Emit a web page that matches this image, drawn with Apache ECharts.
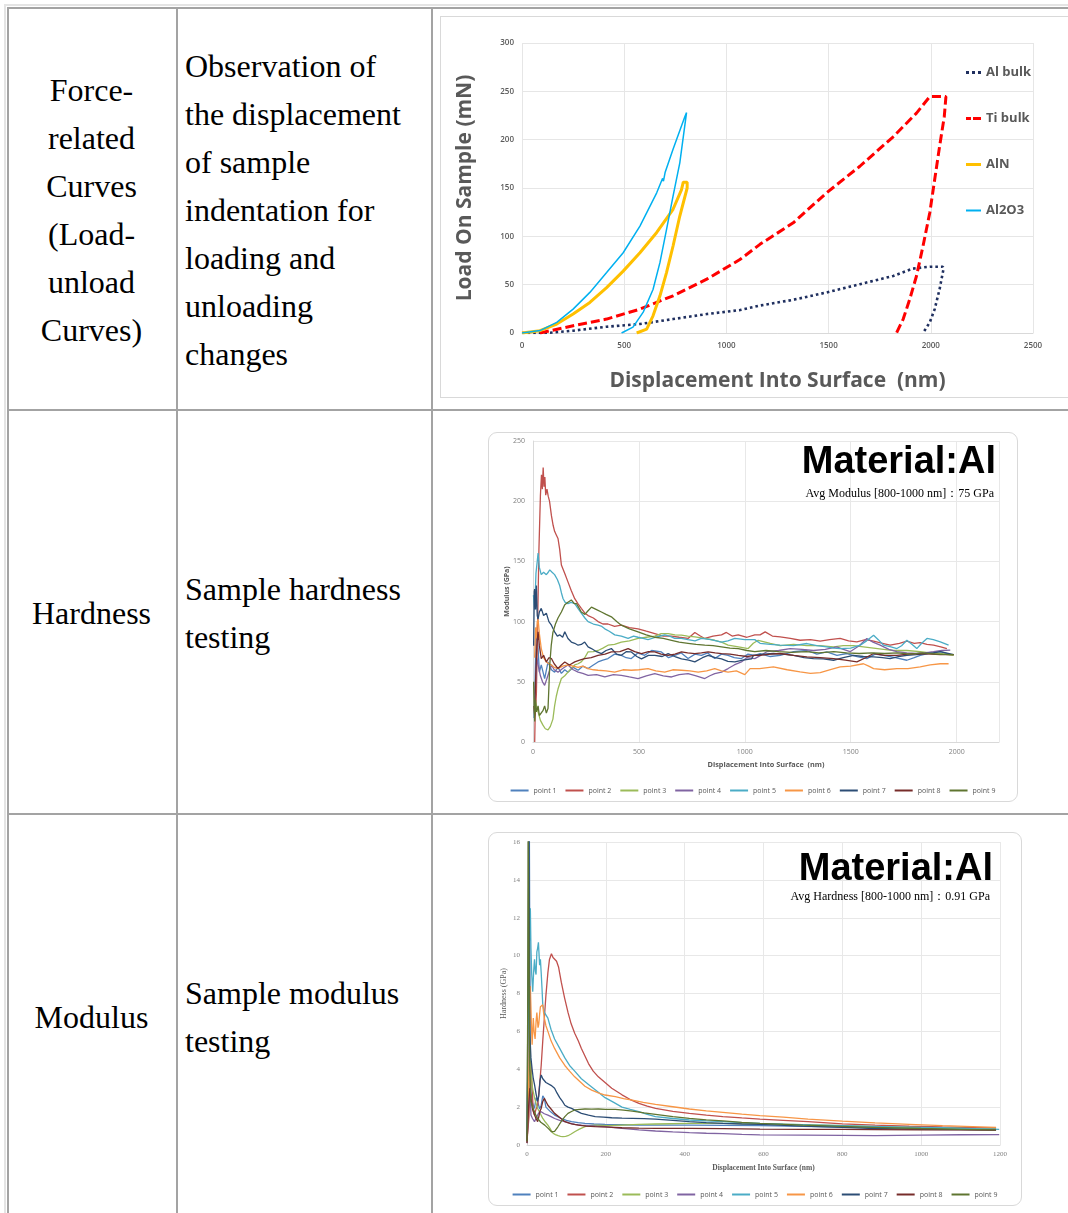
<!DOCTYPE html>
<html><head><meta charset="utf-8">
<script src="https://cdn.jsdelivr.net/npm/echarts@6/dist/echarts.min.js"></script>
<style>
html,body{margin:0;padding:0;width:1068px;height:1213px;overflow:hidden;background:#fff;}
.ln{position:absolute;background:#a3a3a3;}
.lt{position:absolute;background:#e4e4e4;}
.cell{position:absolute;font-family:'Liberation Serif','Times New Roman',serif;font-size:32px;line-height:48px;color:#000;display:flex;align-items:center;box-sizing:border-box;}
.c1{justify-content:center;text-align:center;}
.c2{padding-left:7px;text-align:left;}
.box{position:absolute;border:1px solid #d9d9d9;box-sizing:border-box;background:#fff;}
.ch{position:absolute;}
</style></head>
<body>
<div class="lt" style="left:4px;top:4px;width:1070px;height:2px;"></div>
<div class="lt" style="left:4px;top:4px;width:2px;height:1215px;"></div>
<div class="ln" style="left:7px;top:7px;width:1070px;height:2px;"></div>
<div class="ln" style="left:7px;top:409px;width:1070px;height:2px;"></div>
<div class="ln" style="left:7px;top:813px;width:1070px;height:2px;"></div>
<div class="ln" style="left:7px;top:7px;width:2px;height:1215px;"></div>
<div class="ln" style="left:176px;top:7px;width:2px;height:1215px;"></div>
<div class="ln" style="left:431px;top:7px;width:2px;height:1215px;"></div>

<div class="cell c1" style="left:9px;top:10px;width:165px;height:400px;">Force-<br>related<br>Curves<br>(Load-<br>unload<br>Curves)</div>
<div class="cell c2" style="left:178px;top:10px;width:253px;height:400px;">Observation of<br>the displacement<br>of sample<br>indentation for<br>loading and<br>unloading<br>changes</div>
<div class="cell c1" style="left:9px;top:412px;width:165px;height:402px;">Hardness</div>
<div class="cell c2" style="left:178px;top:412px;width:253px;height:402px;">Sample hardness<br>testing</div>
<div class="cell c1" style="left:9px;top:815px;width:165px;height:404px;">Modulus</div>
<div class="cell c2" style="left:178px;top:815px;width:253px;height:404px;">Sample modulus<br>testing</div>

<div class="box" style="left:440px;top:16px;width:660px;height:382px;"></div>
<div class="box" style="left:488px;top:432px;width:530px;height:370px;border-radius:9px;"></div>
<div class="box" style="left:488px;top:832px;width:534px;height:374px;border-radius:9px;"></div>

<div id="chart1" class="ch" style="left:441px;top:17px;width:640px;height:380px;"></div>
<div id="chart2" class="ch" style="left:489px;top:433px;width:528px;height:368px;"></div>
<div id="chart3" class="ch" style="left:489px;top:833px;width:532px;height:372px;"></div>

<script>
// ---------- Chart 1: load-unload curves ----------
const loadNames = ['Al bulk', 'Ti bulk', 'AlN', 'Al2O3'];
const loadXTicks = [0, 500, 1000, 1500, 2000, 2500];
const loadYTicks = [0, 50, 100, 150, 200, 250, 300];
const loadAlBulk = [[0,0],[88,0],[137,0.3],[250,2.4],[414,6.5],[577,9.3],[739,14.4],[904,19.6],[1066,23.7],[1164,28.4],[1326,34.3],[1490,41.9],[1653,50.5],[1816,59],[1912,66.6],[1995,68.6],[2059,68.6],[2062,66],[2043,45.3],[2019,24.7],[1995,11],[1962,0]];
const loadTiBulk = [[88,0],[250,7.5],[414,14.4],[577,24.7],[739,38.5],[904,55.7],[1066,76],[1164,91.7],[1327,114],[1490,145],[1653,172.5],[1816,203],[1930,227.5],[1995,244.6],[2074,244.6],[2066,224],[2043,193],[2019,158.8],[1995,124.4],[1962,90],[1930,59],[1897,35],[1865,14.4],[1832,0]];
const loadAlN = [[0,0],[88,2.4],[170,9.3],[250,19.6],[332,31.6],[414,47],[495,64],[577,83],[659,104],[739,128],[780,148],[789,156],[808,156],[808,150],[772,121],[739,90],[707,62.5],[675,38.5],[641,17.8],[610,4],[561,0]];
const loadAl2O3 = [[0,0],[88,2.5],[170,11],[250,24.7],[332,42],[414,62.5],[495,83],[577,110.6],[659,145],[688,160],[692,157],[700,166],[739,190],[797,224],[805,228],[812,228],[808,226],[772,176],[739,141.5],[707,107],[675,73],[641,45],[593,21.6],[543,6],[487,0]];

// ---------- Chart 2: modulus (Al) ----------
const pointNames = ['point 1','point 2','point 3','point 4','point 5','point 6','point 7','point 8','point 9'];
const modXTicks = [0, 500, 1000, 1500, 2000];
const modYTicks = [0, 50, 100, 150, 200, 250];
const modP1 = [[5,20],[8,36],[15,95],[24,77.6],[30,58],[39,64],[55,52.7],[71,66.5],[87,60],[102,58],[118,62],[134,57],[150,60],[165,58],[190,62],[213,59.6],[235,63],[260,61],[285,64],[307,66.5],[330,68],[354,69.3],[385,73],[417,72],[440,70],[464,69.3],[495,74],[527,72],[560,76],[606,74.8],[640,70],[669,72],[700,74],[732,69.3],[765,73],[795,72],[825,74],[858,69.3],[890,73],[921,72],[950,70],[984,69.3],[1015,73],[1047,72],[1072,73.5],[1120,71],[1167,72],[1230,75],[1293,76],[1340,73],[1387,74.8],[1435,72],[1482,73.5],[1530,71],[1576,69.3],[1615,73],[1655,72],[1710,70],[1765,67.9],[1800,70],[1828,72],[1880,74],[1923,75],[1970,72.6]];
const modP2 = [[8,0],[10,20],[16,40],[22,100],[28,160],[35,205],[40,222],[44,210],[48,228],[52,212],[56,220],[60,205],[66,210],[72,204],[78,200],[87,188],[95,180],[102,175],[110,172],[118,169],[126,160],[134,147],[150,140],[165,133],[180,126],[197,119],[212,115],[228,111],[245,107],[260,105],[285,103],[307,100],[330,98],[354,98],[385,96],[417,97],[455,95],[496,94],[535,92],[575,90],[615,88],[654,88],[690,87],[732,86],[764,91],[790,88],[811,86],[850,88],[890,89],[913,91],[940,88],[969,89],[1010,87],[1047,89],[1072,89],[1096,91.5],[1130,88],[1167,87.3],[1215,86],[1261,84.5],[1310,85],[1356,83.7],[1400,85],[1450,86],[1490,84],[1529,83.2],[1570,85],[1608,83.7],[1650,82],[1686,80.4],[1730,82],[1765,83.7],[1800,82],[1828,82.6],[1860,81],[1891,80.4],[1925,79],[1954,77.6]];
const modP3 = [[8,36],[16,30],[24,25],[35,18],[47,14],[58,11],[71,10],[82,13],[94,19],[102,30],[110,38],[118,44],[134,52.7],[150,55],[165,58],[181,61],[197,64],[213,65],[228,66.5],[244,70],[260,74.8],[285,75],[307,76],[330,78],[354,80.4],[385,81],[417,83],[455,84],[496,86],[535,87],[575,88],[605,90],[638,90],[670,89],[701,88.7],[730,88],[764,87.3],[810,86],[858,84.5],[890,83],[921,80.4],[970,79],[1016,77.6],[1040,82],[1063,84.5],[1072,83],[1120,82],[1167,80],[1230,81],[1293,80],[1355,80],[1419,79],[1465,80],[1513,80],[1560,79],[1608,78],[1655,77],[1702,76],[1765,76],[1828,75],[1875,74],[1923,73.5],[1986,72]];
const modP4 = [[10,40],[18,70],[24,64],[35,55],[45,50],[55,47],[70,55],[87,64],[100,60],[118,58],[140,61],[165,64],[190,60],[213,58],[235,57],[260,55.4],[300,56],[339,54],[380,56],[417,55.4],[455,54],[496,52.7],[535,55],[575,56.8],[615,55],[654,54],[690,56],[732,56.8],[770,55],[811,52.7],[835,55],[858,56.8],[890,58],[921,61],[950,64],[984,66.5],[1009,70],[1047,69.3],[1075,72],[1104,75],[1160,76],[1214,77.6],[1270,77],[1324,76],[1380,77],[1434,79],[1465,77],[1497,75],[1540,80],[1576,86],[1605,83],[1639,80.4],[1680,77],[1718,75],[1765,74],[1812,73.5],[1850,74],[1891,75],[1930,76],[1970,76.3]];
const modP5 = [[2,122],[8,110],[14,140],[20,150],[24,157],[30,145],[39,139],[50,141],[63,139],[72,141],[79,143],[90,141],[102,139],[115,135],[126,130],[134,124],[142,119],[152,116],[165,115],[180,116],[197,115],[212,111],[228,107],[245,103],[260,100],[285,98],[307,97],[325,96],[339,94],[360,92],[386,89],[417,88],[449,86],[475,88],[496,87],[520,86],[543,85],[580,87],[622,89],[645,88],[669,86],[700,86],[732,85],[765,84],[795,86],[840,85],[890,83],[920,84],[953,86],[1000,85],[1047,85],[1072,82],[1120,81],[1167,80.4],[1230,80],[1293,81.8],[1340,80],[1387,79],[1420,78],[1450,77.6],[1500,78],[1545,80.4],[1575,84],[1608,88.7],[1630,85],[1655,80.4],[1690,79],[1718,77.6],[1740,80],[1765,84.5],[1790,81],[1812,77.6],[1835,82],[1860,86],[1890,85],[1923,83.2],[1962,80.4]];
const modP6 = [[8,70],[12,95],[16,86],[20,100],[24,102],[30,90],[39,77.6],[50,70],[63,66.5],[75,65],[87,64],[100,62],[118,61],[140,63],[165,64],[190,63],[213,62],[235,63],[260,61],[285,60],[307,59.6],[345,59],[386,58],[425,60],[464,59.6],[500,60],[543,61],[580,59],[622,58],[660,60],[701,59.6],[740,59],[780,58],[820,59],[858,61],[890,59],[921,58],[960,59],[1000,56],[1025,61],[1070,61],[1135,62.4],[1200,60],[1261,58.2],[1310,57],[1356,57.7],[1400,60],[1450,62.4],[1500,63],[1560,65],[1585,63],[1608,61],[1660,60],[1718,61],[1770,61],[1828,62.4],[1875,64],[1923,65],[1962,65]];
const modP7 = [[3,80],[6,125],[8,127],[12,110],[16,130],[20,105],[24,102],[30,108],[39,111],[50,105],[63,107],[75,100],[87,97],[95,94],[102,91.5],[115,88],[126,89],[140,87],[150,91.5],[165,86],[181,83],[197,82],[213,80.4],[228,81],[244,83],[260,79],[276,77.6],[300,75],[323,73.4],[345,76],[370,77.6],[395,73],[417,72],[440,75],[464,74.8],[490,71],[512,69],[545,72],[575,72],[610,71],[638,73.4],[670,71],[701,69],[735,68],[764,66.5],[800,70],[827,72],[860,70],[890,69],[920,67],[953,66.5],[990,68],[1032,69],[1041,72],[1090,73],[1135,73.5],[1180,73],[1230,72],[1280,70],[1324,69.3],[1370,69],[1419,67.9],[1465,70],[1513,72],[1560,71],[1608,70.7],[1650,70],[1686,69.3],[1725,71],[1765,72],[1810,72.5],[1860,73.5],[1890,74],[1923,75],[1986,72.6]];
const modP8 = [[4,30],[8,22],[12,50],[18,80],[24,91.5],[30,80],[39,69.3],[50,72],[63,66.5],[75,70],[87,69.3],[100,65],[118,61],[134,64],[150,66.5],[172,64],[197,66.5],[220,68],[244,69.3],[275,70],[307,72],[340,73],[370,74.8],[410,75],[449,77.6],[480,75],[512,73.4],[545,75],[575,74.8],[605,73],[638,72],[670,73],[701,74.8],[730,74],[764,73.4],[795,74],[827,74.8],[860,74],[890,73.4],[930,73],[969,72],[1010,71],[1047,72],[1072,72],[1120,73],[1167,73.5],[1230,72],[1293,70.7],[1356,70],[1419,69.3],[1475,68],[1529,66.5],[1570,70],[1608,73.5],[1660,72],[1718,72],[1770,73],[1828,73.5],[1880,73],[1923,72.6],[1986,72.6]];
const modP9 = [[3,50],[5,30],[8,17],[12,35],[16,25],[24,30],[30,22],[39,22],[47,26],[55,30],[63,24],[71,28],[75,45],[79,64],[86,80],[94,91],[106,98],[118,103],[134,108],[150,114],[165,116],[181,118],[195,115],[205,115],[215,112],[228,108],[245,106],[260,109],[276,112],[300,110],[323,108],[345,106],[370,104],[395,100],[417,97],[455,94],[496,91.5],[535,89],[575,87],[615,86],[654,84.5],[690,83],[732,82],[770,81],[811,80.4],[850,80],[890,79],[930,78],[969,77.6],[1010,76],[1047,75],[1100,76],[1160,75],[1220,74.5],[1290,75],[1350,74],[1420,75],[1480,74],[1540,73.5],[1600,74],[1660,73.5],[1720,74],[1780,73],[1840,74],[1900,73],[1986,72.6]];

// ---------- Chart 3: hardness (Al) ----------
const hardXTicks = [0, 200, 400, 600, 800, 1000, 1200];
const hardYTicks = [0, 2, 4, 6, 8, 10, 12, 14, 16];
const hardP1 = [[0,0.3],[4,8],[6,16.5],[8,5],[10,2.8],[14,2.2],[19,1.93],[23,2.5],[27,2.3],[32,1.9],[36,2.1],[40,2.6],[44,2.46],[48,2.0],[53,1.93],[60,1.75],[70,1.58],[78,1.5],[87,1.4],[100,1.3],[113,1.23],[130,1.18],[147,1.14],[170,1.11],[198,1.09],[240,1.07],[284,1.05],[350,1.05],[412,1.05],[500,1.04],[591,1.02],[700,0.98],[800,0.95],[900,0.92],[1000,0.89],[1100,0.87],[1190,0.85]];
const hardP2 = [[0,0.2],[5,1.5],[8,4],[10,4.4],[13,3],[16,1.8],[19,1.6],[23,1.9],[27,2.1],[32,3.2],[36,4.2],[40,5.5],[44,6.7],[48,7.9],[53,9.1],[57,9.8],[62,10.1],[66,9.9],[70,9.8],[75,9.7],[80,9.4],[87,8.6],[95,7.8],[104,7.0],[112,6.4],[121,5.9],[130,5.5],[138,5.1],[147,4.7],[156,4.3],[168,3.9],[181,3.6],[198,3.3],[215,3.0],[241,2.65],[262,2.4],[284,2.2],[305,2.05],[326,1.93],[370,1.78],[412,1.67],[455,1.58],[497,1.5],[545,1.43],[591,1.37],[650,1.3],[713,1.23],[800,1.12],[883,1.05],[970,0.99],[1054,0.95],[1130,0.92],[1190,0.9]];
const hardP3 = [[0,0.2],[4,3],[7,4.5],[10,3.9],[14,3.0],[19,2.5],[23,2.2],[27,1.93],[34,1.65],[40,1.4],[47,1.2],[53,1.05],[60,0.82],[66,0.62],[72,0.55],[79,0.49],[85,0.46],[91,0.44],[98,0.46],[104,0.49],[112,0.58],[121,0.7],[133,0.84],[147,0.97],[160,1.02],[173,1.05],[190,1.04],[207,1.02],[241,1.05],[284,1.09],[326,1.11],[412,1.14],[497,1.14],[591,1.12],[700,1.08],[800,1.02],[900,0.96],[1000,0.91],[1100,0.87],[1190,0.84]];
const hardP4 = [[0,0.1],[4,2],[8,3],[10,1.58],[14,1.4],[19,1.23],[25,1.5],[30,1.7],[36,1.76],[44,1.65],[53,1.58],[61,1.5],[70,1.4],[83,1.3],[96,1.23],[108,1.15],[121,1.09],[138,1.05],[156,1.02],[177,0.99],[198,0.97],[220,0.92],[241,0.88],[284,0.8],[326,0.74],[370,0.69],[412,0.65],[455,0.62],[497,0.6],[545,0.56],[591,0.53],[700,0.52],[800,0.51],[883,0.5],[1000,0.52],[1100,0.54],[1198,0.55]];
const hardP5 = [[0,0.3],[3,6],[5,12.5],[7,10.8],[8.5,12.5],[10,10.4],[12,9],[14.5,8.1],[17,9.2],[19,9.8],[21,9.2],[23,9],[25,10.2],[27,10.4],[29,10.7],[32,9.5],[34,9.8],[36,9.1],[38,8.3],[40,7.4],[44,7.0],[48,6.9],[53,6.7],[61,6.1],[70,5.6],[83,5.1],[96,4.6],[108,4.2],[121,3.9],[138,3.5],[156,3.2],[177,2.85],[198,2.5],[220,2.25],[241,2.0],[262,1.88],[284,1.76],[305,1.62],[326,1.5],[370,1.4],[412,1.32],[455,1.27],[497,1.23],[545,1.18],[591,1.14],[650,1.1],[720,1.06],[798,1.02],[900,0.97],[1000,0.93],[1054,0.91],[1130,0.86],[1198,0.82]];
const hardP6 = [[0,0.2],[4,3],[6,6],[8.5,8.4],[11,6.5],[13,5.3],[16,6.7],[18,6.0],[20.5,5.6],[23,6.5],[25,7.0],[28,6.2],[30,6.4],[32,6.9],[34,7.3],[36,7.2],[38,7.35],[40,7.4],[42,7.0],[44,6.7],[48,6.3],[53,6.0],[61,5.5],[70,5.1],[83,4.6],[96,4.2],[108,3.9],[121,3.6],[134,3.35],[147,3.1],[164,2.9],[181,2.75],[198,2.64],[224,2.55],[245,2.45],[267,2.37],[295,2.25],[326,2.15],[370,2.02],[412,1.9],[455,1.8],[497,1.72],[545,1.63],[591,1.55],[650,1.47],[713,1.37],[800,1.26],[883,1.17],[970,1.09],[1054,1.02],[1130,0.97],[1190,0.93]];
const hardP7 = [[0,0.2],[3,10],[5,16.5],[7,6],[10,4.6],[13,4.0],[16,3.5],[19,3.2],[23,2.7],[27,2.3],[30,2.6],[33,3.4],[36,3.7],[38,3.6],[40,3.5],[44,3.5],[48,3.3],[53,3.3],[61,3.15],[70,3.0],[76,2.75],[83,2.5],[90,2.3],[96,2.1],[104,2.0],[113,1.93],[125,1.8],[138,1.67],[156,1.58],[173,1.5],[194,1.47],[215,1.44],[241,1.42],[267,1.41],[297,1.39],[326,1.37],[370,1.3],[412,1.23],[455,1.18],[497,1.14],[545,1.11],[591,1.09],[700,1.0],[800,0.93],[883,0.87],[1000,0.83],[1100,0.81],[1190,0.79]];
const hardP8 = [[0,0.1],[4,2],[7,3],[10,2.46],[14,1.9],[19,1.58],[23,1.4],[27,1.23],[30,1.5],[33,1.8],[36,1.93],[40,2.3],[44,2.46],[48,2.3],[53,2.1],[61,1.9],[70,1.67],[83,1.45],[96,1.23],[113,1.12],[130,1.05],[150,1.0],[173,0.97],[207,0.94],[241,0.91],[284,0.89],[326,0.88],[412,0.88],[497,0.86],[591,0.84],[700,0.83],[800,0.82],[883,0.81],[1000,0.8],[1100,0.8],[1190,0.79]];
const hardP9 = [[0,0.2],[2,8],[3,16.5],[5,16.5],[7,4],[10,2.3],[14,2.0],[19,1.76],[23,1.55],[27,1.4],[35,1.2],[45,1.05],[55,0.85],[62,0.7],[70,0.72],[78,0.95],[87,1.25],[96,1.5],[104,1.67],[113,1.77],[121,1.85],[134,1.88],[147,1.9],[164,1.89],[181,1.9],[200,1.88],[224,1.88],[245,1.84],[267,1.79],[297,1.7],[326,1.62],[370,1.5],[412,1.41],[455,1.33],[497,1.27],[545,1.2],[591,1.14],[700,1.05],[800,0.98],[900,0.92],[1000,0.87],[1100,0.83],[1190,0.8]];

const pointColors = ['#4F81BD','#C0504D','#9BBB59','#8064A2','#4BACC6','#F79646','#2C4D75','#772C2A','#5F7530'];
const modSeries = [modP1, modP2, modP3, modP4, modP5, modP6, modP7, modP8, modP9];
const hardSeries = [hardP1, hardP2, hardP3, hardP4, hardP5, hardP6, hardP7, hardP8, hardP9];

const plain = v => String(v);

function lineSeries(name, data, color, width, type) {
  return { name, type: 'line', data, symbol: 'none', showSymbol: false, smooth: false,
    lineStyle: { color, width, type: type || 'solid' }, itemStyle: { color }, emphasis: { disabled: true } };
}

// Chart 1
const c1 = echarts.init(document.getElementById('chart1'), null, { renderer: 'canvas' });
const c1Font = "'Open Sans','Noto Sans',sans-serif";
c1.setOption({
  animation: false,
  grid: { left: 81, right: 48, top: 26, bottom: 63 },
  xAxis: {
    type: 'value', min: loadXTicks[0], max: loadXTicks[loadXTicks.length - 1], interval: 500,
    name: 'Displacement Into Surface  (nm)', nameLocation: 'middle', nameGap: 38, nameMoveOverlap: false,
    nameTextStyle: { fontFamily: c1Font, fontWeight: 'bold', fontSize: 21, color: '#595959' },
    axisLine: { show: true, lineStyle: { color: '#d9d9d9' } }, axisTick: { show: false },
    axisLabel: { fontFamily: c1Font, fontSize: 8, fontWeight: 600, color: '#595959', margin: 9, formatter: plain },
    splitLine: { show: true, lineStyle: { color: '#e6e6e6' } }
  },
  yAxis: {
    type: 'value', min: loadYTicks[0], max: loadYTicks[loadYTicks.length - 1], interval: 50,
    name: 'Load On Sample (mN)', nameLocation: 'middle', nameGap: 46, nameRotate: 90, nameMoveOverlap: false,
    nameTextStyle: { fontFamily: c1Font, fontWeight: 'bold', fontSize: 21, color: '#595959' },
    axisLine: { show: false }, axisTick: { show: false },
    axisLabel: { fontFamily: c1Font, fontSize: 8, fontWeight: 600, color: '#595959', margin: 8, formatter: plain },
    splitLine: { show: true, lineStyle: { color: '#e6e6e6' } }
  },
  legend: {
    orient: 'vertical', left: 520, top: 44, itemGap: 33, itemWidth: 15, itemHeight: 3, itemTextGap: 3,
    data: [
      { name: loadNames[0], icon: 'path://M0,0h3v3h-3zM6,0h3v3h-3zM12,0h3v3h-3z' },
      { name: loadNames[1], icon: 'path://M0,0h5v3h-5zM7,0h8v3h-8z' },
      { name: loadNames[2], icon: 'rect' },
      { name: loadNames[3], icon: 'path://M0,0h15v2h-15z' }
    ],
    textStyle: { fontFamily: c1Font, fontWeight: 'bold', fontSize: 13, color: '#595959' }
  },
  series: [
    lineSeries(loadNames[0], loadAlBulk, '#1F2F5F', 2.6, [2.6, 3]),
    lineSeries(loadNames[1], loadTiBulk, '#FF0000', 3, [9, 4]),
    lineSeries(loadNames[2], loadAlN, '#FFC000', 3),
    lineSeries(loadNames[3], loadAl2O3, '#00B0F0', 1.5)
  ]
});

function pointChart(el, opts) {
  const ch = echarts.init(document.getElementById(el), null, { renderer: 'canvas' });
  ch.setOption({
    animation: false,
    grid: opts.grid,
    title: [
      { text: 'Material:Al', right: opts.titleRight, top: opts.titleTop, padding: 0,
        textStyle: { fontFamily: "'Liberation Sans',Arial,sans-serif", fontWeight: 'bold', fontSize: 38, color: '#000' } },
      { text: opts.sub, right: opts.subRight, top: opts.subTop, padding: 0,
        textStyle: { fontFamily: "'Liberation Serif','Times New Roman',serif", fontWeight: 'normal', fontSize: 12, color: '#000' } }
    ],
    xAxis: {
      type: 'value', min: 0, max: opts.xMax, interval: opts.xInt,
      name: opts.xName, nameLocation: 'middle', nameGap: opts.xNameGap, nameMoveOverlap: false,
      nameTextStyle: { fontFamily: opts.nameFont, fontWeight: 'bold', fontSize: opts.nameSize, color: '#595959' },
      axisLine: { show: true, lineStyle: { color: '#d9d9d9' } }, axisTick: { show: false },
      axisLabel: { fontFamily: opts.tickFont, fontSize: 7, color: '#808080', margin: 6, showMaxLabel: opts.showMax, formatter: plain },
      splitLine: { show: true, lineStyle: { color: '#e8e8e8' } }
    },
    yAxis: {
      type: 'value', min: 0, max: opts.yMax, interval: opts.yInt,
      name: opts.yName, nameLocation: 'middle', nameGap: opts.yNameGap, nameRotate: 90, nameMoveOverlap: false,
      nameTextStyle: { fontFamily: opts.nameFont, fontWeight: opts.yNameWeight, fontSize: opts.yNameSize, color: '#595959' },
      axisLine: { show: true, lineStyle: { color: '#d9d9d9' } }, axisTick: { show: false },
      axisLabel: { fontFamily: opts.tickFont, fontSize: 7, color: '#808080', margin: opts.yMargin, formatter: plain },
      splitLine: { show: true, lineStyle: { color: '#e8e8e8' } }
    },
    legend: {
      bottom: 2, left: 'center', itemWidth: 18, itemHeight: 2, itemGap: 9, itemTextGap: 1,
      data: pointNames, icon: 'rect',
      textStyle: { fontFamily: "'Open Sans',sans-serif", fontSize: 7, color: '#595959' }
    },
    series: opts.data.map((d, i) => lineSeries(pointNames[i], d, pointColors[i], 1.3))
  });
  return ch;
}

pointChart('chart2', {
  grid: { left: 44, right: 18, top: 8, bottom: 59 },
  titleRight: 21, titleTop: 11, sub: 'Avg Modulus [800-1000 nm]：75 GPa', subRight: 23, subTop: 55,
  xMax: 2200, xInt: 500, showMax: false, yMax: 250, yInt: 50,
  xName: 'Displacement Into Surface  (nm)', xNameGap: 19, nameFont: "'Open Sans',sans-serif", nameSize: 7.3,
  yName: 'Modulus (GPa)', yNameGap: 23, yNameWeight: 'bold', yNameSize: 7, yMargin: 8,
  tickFont: "'Open Sans',sans-serif", data: modSeries
});
pointChart('chart3', {
  grid: { left: 38, right: 21, top: 9, bottom: 60 },
  titleRight: 28, titleTop: 18, sub: 'Avg Hardness [800-1000 nm]：0.91 GPa', subRight: 31, subTop: 58,
  xMax: 1200, xInt: 200, showMax: true, yMax: 16, yInt: 2,
  xName: 'Displacement Into Surface (nm)', xNameGap: 19, nameFont: "'Liberation Serif',serif", nameSize: 7.5,
  yName: 'Hardness (GPa)', yNameGap: 19, yNameWeight: 'normal', yNameSize: 8, yMargin: 7,
  tickFont: "'Liberation Serif',serif", data: hardSeries
});
</script>
</body></html>
